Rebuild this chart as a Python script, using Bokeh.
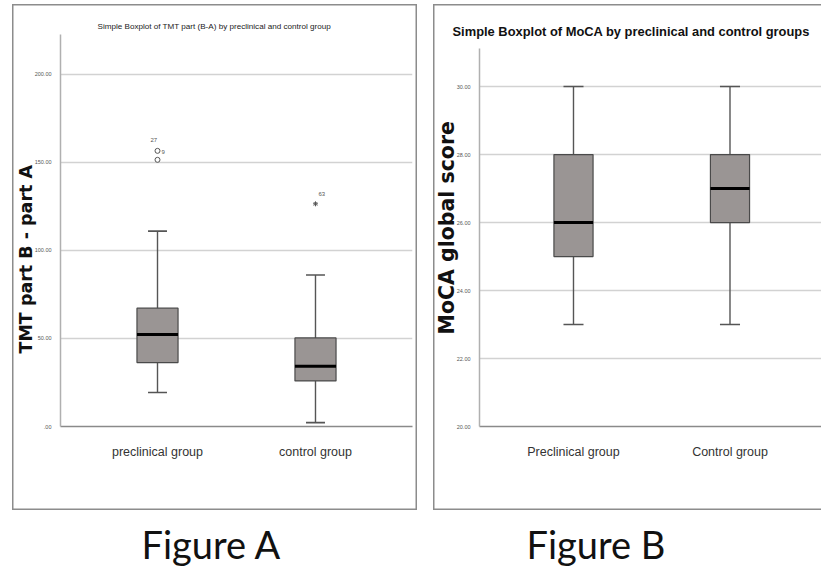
from bokeh.plotting import figure
from bokeh.models import Range1d, FixedTicker, Title, ColumnDataSource, Spacer
from bokeh.layouts import row, column
from bokeh.embed import file_html
from bokeh.resources import INLINE
from bokeh.core.properties import value

# ---------------- data ----------------
# Figure A: TMT part (B-A)
a_groups = ["preclinical group", "control group"]
a_lower = [19.3, 2.2]
a_q1 = [36.3, 25.9]
a_median = [52.2, 34.2]
a_q3 = [67.2, 50.3]
a_upper = [111.0, 86.1]
a_out_group = [0, 0, 1]
a_out_value = [151.5, 156.6, 126.5]
a_out_label = ["27", "9", "63"]
a_out_kind = ["circle", "circle", "star"]
a_ticks = [0, 50, 100, 150, 200]
a_tick_labels = [".00", "50.00", "100.00", "150.00", "200.00"]

# Figure B: MoCA
b_groups = ["Preclinical group", "Control group"]
b_lower = [23, 23]
b_q1 = [25, 26]
b_median = [26, 27]
b_q3 = [28, 28]
b_upper = [30, 30]
b_ticks = [20, 22, 24, 26, 28, 30]
b_tick_labels = ["20.00", "22.00", "24.00", "26.00", "28.00", "30.00"]

SANS = "Liberation Sans"
BOX_FILL = "#9a9594"
BOX_LINE = "#4a4a4a"
WHISK = "#555555"
GRID = "#d2d2d2"
BORDER = "#8c8c8c"

PH = 506      # bordered panel height
BOTTOM = 84   # space below plot frame inside border


def panel_css(right_edge=True):
    shadows = ["inset 1.5px 0 0 0 " + BORDER, "inset 0 1.5px 0 0 " + BORDER,
               "inset 0 -1.5px 0 0 " + BORDER]
    if right_edge:
        shadows.append("inset -1.5px 0 0 0 " + BORDER)
    return {"background": "white", "box-shadow": ", ".join(shadows)}


def make_panel(width, left, right, top, xr, yr, groups, lower, q1, med, q3, upper,
               ticks, tick_labels, box_w, cap_w, right_edge=True):
    p = figure(width=width, height=PH, x_range=xr, y_range=yr,
               output_backend="svg", toolbar_location=None,
               min_border_left=left, min_border_right=right,
               min_border_top=top, min_border_bottom=BOTTOM,
               styles=panel_css(right_edge))
    p.outline_line_color = None
    p.background_fill_color = None
    p.border_fill_color = None
    xs = list(range(len(groups)))
    src = ColumnDataSource(dict(
        x=xs,
        x0=[x - box_w / 2 for x in xs], x1=[x + box_w / 2 for x in xs],
        c0=[x - cap_w / 2 for x in xs], c1=[x + cap_w / 2 for x in xs],
        lower=lower, q1=q1, med=med, q3=q3, upper=upper))
    p.segment(x0="x", y0="q3", x1="x", y1="upper", source=src, line_color=WHISK, line_width=1.4)
    p.segment(x0="x", y0="q1", x1="x", y1="lower", source=src, line_color=WHISK, line_width=1.4)
    p.segment(x0="c0", y0="upper", x1="c1", y1="upper", source=src, line_color=WHISK, line_width=1.6)
    p.segment(x0="c0", y0="lower", x1="c1", y1="lower", source=src, line_color=WHISK, line_width=1.6)
    p.vbar(x="x", width=box_w, bottom="q1", top="q3", source=src,
           fill_color=BOX_FILL, line_color=BOX_LINE, line_width=1.2)
    p.segment(x0="x0", y0="med", x1="x1", y1="med", source=src, line_color="black", line_width=3)

    p.xaxis.ticker = FixedTicker(ticks=xs)
    p.xaxis.major_label_overrides = {i: g for i, g in enumerate(groups)}
    p.xaxis.major_label_text_font = SANS
    p.xaxis.major_label_text_font_size = "12.5px"
    p.xaxis.major_label_text_color = "#333333"
    p.xaxis.major_label_standoff = 12
    p.xaxis.major_tick_line_color = None
    p.xaxis.minor_tick_line_color = None
    p.xaxis.axis_line_color = "#8a8a8a"
    p.xaxis.axis_line_width = 1.5

    p.yaxis.ticker = FixedTicker(ticks=ticks)
    p.yaxis.major_label_overrides = {t: l for t, l in zip(ticks, tick_labels)}
    p.yaxis.major_label_text_font = SANS
    p.yaxis.major_label_text_font_size = "5.5px"
    p.yaxis.major_label_text_color = "#555555"
    p.yaxis.major_label_standoff = 3
    p.yaxis.major_tick_line_color = None
    p.yaxis.minor_tick_line_color = None
    p.yaxis.axis_line_color = "#b0b0b0"
    p.yaxis.axis_line_width = 1.5

    p.xgrid.grid_line_color = None
    p.ygrid.grid_line_color = GRID
    p.ygrid.grid_line_width = 1.5
    return p


def caption(width, text, left, right, offset):
    f = figure(width=width, height=61, x_range=Range1d(0, 1), y_range=Range1d(0, 1),
               output_backend="svg", toolbar_location=None,
               min_border_left=left, min_border_right=right,
               min_border_top=56, min_border_bottom=0,
               x_axis_location=None, y_axis_location=None)
    f.outline_line_color = None
    f.grid.visible = False
    f.title.text = text
    f.title.align = "left"
    f.title.offset = offset
    f.title.standoff = 0
    f.title.text_font = "Lato"
    f.title.text_font_style = "normal"
    f.title.text_font_size = "38px"
    f.title.text_color = "#111111"
    return f


# ---------------- Figure A ----------------
pa = make_panel(405, 48, 5, 30,
                Range1d(-0.614, 1.614), Range1d(0, 222.7),
                a_groups, a_lower, a_q1, a_median, a_q3, a_upper,
                a_ticks, a_tick_labels, 0.26, 0.12)

circ = [i for i, k in enumerate(a_out_kind) if k == "circle"]
star = [i for i, k in enumerate(a_out_kind) if k == "star"]
pa.scatter([a_out_group[i] for i in circ], [a_out_value[i] for i in circ], marker="circle",
           size=5, fill_color="white", line_color="#555555", line_width=1)
pa.scatter([a_out_group[i] for i in star], [a_out_value[i] for i in star], marker="asterisk",
           size=5, line_color="#555555", line_width=1)
pa.text(x=a_out_group, y=a_out_value, text=a_out_label,
        x_offset=[-7, 4, 3], y_offset=[-20, 1, -10],
        text_font=value(SANS), text_font_size="6px", text_color="#555555",
        text_baseline="middle", text_align="left")

pa.title.text = "Simple Boxplot of TMT part (B-A) by preclinical and control group"
pa.title.align = "left"
pa.title.offset = 37
pa.title.standoff = 8
pa.title.text_font = SANS
pa.title.text_font_style = "normal"
pa.title.text_font_size = "8.1px"
pa.title.text_color = "#222222"
pa.add_layout(Title(text="TMT part B - part A", align="left", offset=73, standoff=-8,
                    text_font="DejaVu Sans", text_font_style="bold",
                    text_font_size="17.5px", text_color="#111111"), "left")

# ---------------- Figure B ----------------
pb = make_panel(388, 46, 0, 44,
                Range1d(-0.6006, 1.5847), Range1d(20, 31.12),
                b_groups, b_lower, b_q1, b_median, b_q3, b_upper,
                b_ticks, b_tick_labels, 0.25, 0.128, right_edge=False)
pb.title.text = "Simple Boxplot of MoCA by preclinical and control groups"
pb.title.align = "left"
pb.title.offset = -27
pb.title.standoff = 20
pb.title.text_font = SANS
pb.title.text_font_style = "bold"
pb.title.text_font_size = "12.9px"
pb.title.text_color = "#111111"
pb.add_layout(Title(text="MoCA global score", align="left", offset=92, standoff=-10,
                    text_font="DejaVu Sans", text_font_style="bold",
                    text_font_size="20.5px", text_color="#111111"), "left")

fa = caption(405, "Figure A", 48, 5, 81)
fb = caption(388, "Figure B", 46, 0, 47)

layout = column(Spacer(height=4),
                row(Spacer(width=12), column(pa, fa), Spacer(width=16), column(pb, fb)))
open("out.html", "w").write(file_html(layout, INLINE))
